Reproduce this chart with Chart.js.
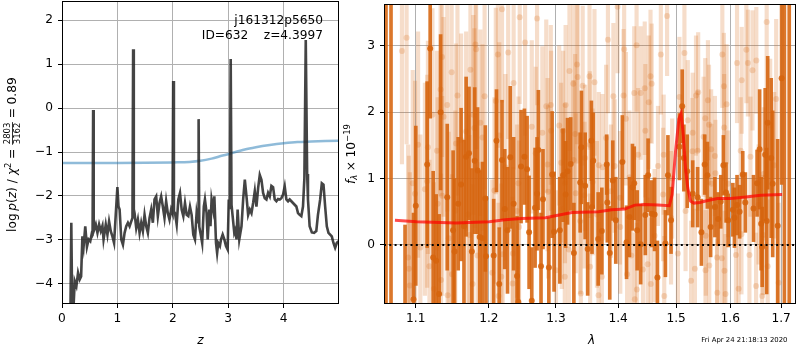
<!DOCTYPE html>
<html><head><meta charset="utf-8">
<script src="https://cdn.jsdelivr.net/npm/chart.js@4/dist/chart.umd.min.js"></script>
<style>
html,body{margin:0;padding:0;background:#fff;}
#wrap{position:relative;width:800px;height:350px;overflow:hidden;background:#fff;}
canvas{position:absolute;top:0;}
#pz{left:0;}
#sp{left:338px;}
</style></head><body>
<div id="wrap"><canvas id="pz" width="345" height="350"></canvas><canvas id="sp" width="462" height="350"></canvas></div>
<script>
// ---------- redshift probability p(z) ----------
const zGrid = [0.150,0.168,0.185,0.205,0.23,0.26,0.29,0.32,0.345,0.368,0.39,0.42,0.45,0.48,0.51,0.54,0.552,0.562,0.572,0.58,0.61,0.64,0.67,0.70,0.73,0.75,0.79,0.82,0.85,0.88,0.91,0.94,0.97,1.00,1.02,1.04,1.07,1.10,1.13,1.16,1.19,1.22,1.25,1.272,1.284,1.296,1.31,1.34,1.37,1.40,1.43,1.46,1.49,1.52,1.55,1.58,1.61,1.64,1.67,1.70,1.73,1.76,1.79,1.82,1.85,1.88,1.91,1.94,1.97,1.995,2.007,2.02,2.04,2.07,2.10,2.13,2.16,2.19,2.22,2.25,2.28,2.31,2.34,2.37,2.40,2.43,2.455,2.466,2.478,2.51,2.53,2.56,2.58,2.61,2.63,2.66,2.68,2.70,2.73,2.75,2.78,2.80,2.82,2.85,2.87,2.90,2.93,2.96,2.99,3.01,3.03,3.045,3.06,3.08,3.11,3.13,3.15,3.17,3.20,3.22,3.24,3.27,3.30,3.33,3.36,3.39,3.42,3.45,3.48,3.51,3.54,3.57,3.60,3.63,3.66,3.69,3.72,3.75,3.78,3.81,3.84,3.87,3.90,3.93,3.96,3.99,4.02,4.05,4.08,4.11,4.14,4.17,4.20,4.23,4.26,4.29,4.32,4.35,4.375,4.40,4.425,4.44,4.47,4.51,4.55,4.59,4.62,4.66,4.69,4.72,4.75,4.78,4.81,4.84,4.87,4.90,4.93,4.96,4.99];
const logPz = [-5.0,-2.61,-4.7,-4.6,-3.94,-4.05,-3.75,-3.90,-3.83,-2.92,-3.15,-2.69,-3.16,-2.99,-3.03,-2.84,-2.85,-0.04,-2.80,-2.77,-2.65,-2.84,-2.65,-2.80,-2.68,-2.99,-2.65,-2.88,-2.58,-2.80,-2.92,-3.07,-2.43,-1.80,-2.24,-2.31,-2.99,-3.11,-2.84,-2.69,-2.61,-2.69,-2.58,-2.5,1.34,-2.3,-2.39,-2.73,-2.54,-2.84,-2.61,-2.80,-2.43,-2.69,-2.84,-2.50,-2.31,-2.61,-2.08,-2.01,-2.46,-2.16,-2.01,-2.24,-2.50,-2.12,-2.39,-2.54,-2.31,-2.4,0.62,-2.35,-2.39,-2.65,-2.08,-1.93,-2.31,-2.46,-2.16,-2.43,-2.46,-2.24,-2.43,-2.88,-2.99,-2.39,-2.6,-0.25,-2.7,-2.92,-3.07,-2.24,-2.08,-2.39,-2.99,-2.31,-2.69,-2.08,-2.31,-2.01,-3.07,-3.30,-3.07,-3.14,-2.99,-2.88,-2.99,-3.14,-3.22,-2.08,-2.3,1.12,-2.2,-2.46,-2.84,-2.77,-2.99,-2.31,-2.99,-2.84,-2.69,-2.08,-1.63,-2.01,-2.43,-2.31,-2.39,-2.16,-1.89,-2.24,-1.82,-1.52,-1.63,-1.93,-2.05,-2.08,-1.93,-2.01,-1.77,-1.80,-2.08,-2.12,-2.07,-2.08,-2.05,-1.97,-1.78,-2.08,-2.12,-2.08,-2.12,-2.16,-2.20,-2.24,-2.39,-2.43,-2.46,-2.24,-1.6,1.55,-1.5,-2.08,-2.69,-2.83,-2.84,-2.80,-2.43,-2.08,-1.71,-1.74,-2.24,-2.69,-2.84,-2.88,-2.92,-3.07,-3.18,-3.07,-3.03];
// prior curve
const priorZ = [0,0.5,1,1.5,2,2.3,2.5,2.7,2.9,3.0,3.1,3.3,3.5,3.75,4.0,4.25,4.5,4.75,5.0];
const priorLogP = [-1.25,-1.25,-1.25,-1.245,-1.235,-1.225,-1.20,-1.15,-1.08,-1.05,-1.01,-0.94,-0.89,-0.84,-0.80,-0.77,-0.76,-0.75,-0.74];
const zTicks = [0,1,2,3,4];
const pzTicks = [-4,-3,-2,-1,0,1,2];

// ---------- spectrum (flux in 1e-19) ----------
const darkLam = [1.0616,1.068,1.086,1.097,1.100,1.115,1.119,1.123,1.127,1.131,1.133,1.142,1.150,1.152,1.157,1.161,1.165,1.168,1.172,1.176,1.180,1.184,1.187,1.191,1.195,1.196,1.207,1.211,1.215,1.219,1.223,1.227,1.231,1.236,1.241,1.243,1.247,1.252,1.256,1.259,1.263,1.268,1.271,1.273,1.277,1.280,1.289,1.294,1.297,1.306,1.311,1.315,1.318,1.323,1.328,1.338,1.340,1.346,1.350,1.356,1.357,1.359,1.367,1.373,1.381,1.382,1.386,1.391,1.396,1.407,1.414,1.419,1.424,1.427,1.432,1.438,1.446,1.4508,1.457,1.462,1.467,1.481,1.4855,1.491,1.506,1.511,1.514,1.520,1.530,1.539,1.546,1.552,1.557,1.563,1.571,1.577,1.582,1.587,1.592,1.596,1.605,1.608,1.613,1.618,1.624,1.629,1.645,1.652,1.657,1.660,1.662,1.668,1.671,1.673,1.680,1.683,1.693,1.701,1.7066,1.7165];
const darkFlux = [-3,-3,-1.0,-0.82,0.59,1.21,2.96,-0.19,-0.24,-0.74,2.00,0.72,0.22,-0.10,0.62,0.91,0.28,1.33,1.38,-0.10,1.27,1.12,0.12,0.10,0.70,-0.17,-0.16,1.57,-0.59,1.28,0.54,0.22,1.32,0.62,-0.47,-0.86,1.18,1.33,1.14,0.19,-0.84,0.56,0.77,1.43,-0.32,0.69,-0.34,1.06,0.20,0.22,1.05,0.76,1.11,1.22,-0.12,0.94,1.47,0.89,-0.06,1.57,0.57,1.27,0.09,0.21,1.21,0.64,-0.12,0.97,0.37,1.25,0.04,0.42,0.87,0.93,0.22,0.01,0.45,1.05,0.47,0.46,-0.49,0.02,1.05,0.37,1.48,2.09,1.31,1.11,0.77,0.72,0.19,1.21,1.05,0.27,0.57,0.39,0.65,1.20,0.79,0.37,0.53,0.41,0.60,0.50,1.06,0.64,0.55,0.93,1.44,0.32,-0.03,1.36,0.36,1.84,1.31,0.92,0.29,2.51,5,5];
const darkErr = [8,8,1.3,1.3,1.2,1.25,1.05,1.3,1.0,1.2,1.17,1.1,1.2,1.1,1.0,1.15,1.3,1.2,1.0,1.25,1.1,0.95,1.0,1.15,1.1,0.9,0.85,0.77,0.85,0.9,0.9,0.95,1.07,1.0,0.9,0.85,0.85,0.72,0.8,0.85,0.8,0.9,0.85,0.9,0.8,0.75,0.75,0.95,0.9,0.8,0.7,0.8,0.8,0.7,0.75,0.75,0.85,0.8,0.7,0.6,0.7,0.72,0.7,0.65,0.45,0.6,0.7,0.6,0.65,0.7,0.55,0.6,0.65,0.55,0.6,0.6,0.6,0.55,0.5,0.55,0.55,0.5,0.6,0.5,0.5,0.55,0.5,0.55,0.5,0.45,0.5,0.45,0.5,0.45,0.45,0.4,0.4,0.45,0.45,0.4,0.4,0.45,0.45,0.4,0.35,0.45,0.5,0.5,0.9,0.7,0.6,1.0,1.1,1.0,1.2,1.1,1.3,1.6,8,8];

const lightLam = [1.082,1.088,1.090,1.091,1.0922,1.096,1.099,1.103,1.106,1.112,1.115,1.116,1.118,1.122,1.124,1.128,1.129,1.133,1.1335,1.135,1.1352,1.137,1.142,1.1425,1.144,1.148,1.1485,1.153,1.154,1.156,1.161,1.168,1.171,1.1726,1.174,1.177,1.178,1.1795,1.181,1.182,1.184,1.188,1.191,1.194,1.205,1.208,1.210,1.213,1.214,1.215,1.218,1.219,1.220,1.224,1.228,1.2345,1.235,1.236,1.241,1.243,1.244,1.245,1.253,1.263,1.269,1.271,1.279,1.285,1.287,1.288,1.292,1.2925,1.300,1.305,1.308,1.309,1.311,1.3137,1.314,1.315,1.320,1.321,1.327,1.3275,1.330,1.331,1.333,1.334,1.338,1.339,1.342,1.345,1.346,1.353,1.3535,1.354,1.358,1.361,1.365,1.3675,1.368,1.373,1.374,1.380,1.383,1.388,1.392,1.394,1.399,1.403,1.4035,1.409,1.410,1.413,1.415,1.419,1.422,1.427,1.428,1.431,1.4315,1.4337,1.438,1.442,1.445,1.446,1.450,1.452,1.455,1.4555,1.457,1.462,1.468,1.473,1.477,1.478,1.479,1.484,1.491,1.493,1.5032,1.506,1.515,1.517,1.5211,1.527,1.5295,1.530,1.534,1.536,1.539,1.540,1.550,1.553,1.5535,1.554,1.558,1.560,1.5605,1.564,1.5645,1.571,1.572,1.575,1.5755,1.584,1.585,1.588,1.5885,1.589,1.591,1.593,1.596,1.611,1.613,1.616,1.620,1.6215,1.622,1.631,1.634,1.637,1.639,1.643,1.650,1.6505,1.655,1.662,1.664,1.665,1.671,1.673,1.678,1.686,1.690,1.695,1.698];
const lightFlux = [2.92,3.12,-0.19,-0.36,-0.61,0.93,0.77,1.51,-0.04,0.84,0.96,1.47,-0.32,1.96,-0.66,1.42,0.62,2.34,-0.53,2.83,0.74,1.93,2.11,-0.76,0.10,2.60,-0.44,0.52,1.53,2.25,1.58,1.71,0.46,0.15,2.64,-0.59,1.96,1.76,3.02,2.95,-0.16,1.84,1.62,2.24,-0.42,0.82,2.17,2.87,-0.77,1.65,-0.48,3.55,-0.14,1.17,2.90,-0.58,-0.13,2.44,0.51,0.93,0.27,3.43,3.05,1.78,1.38,3.41,1.69,2.09,1.21,0.80,2.11,1.72,-0.38,1.80,1.24,0.54,1.72,-0.48,0.93,2.11,-0.07,2.62,2.43,1.28,1.67,0.78,2.72,2.53,0.36,-0.73,2.40,0.75,1.31,2.54,1.51,-0.33,0.95,2.45,0.46,-0.76,1.20,-0.48,1.17,1.61,3.09,0.81,2.24,1.19,3.59,0.71,0.27,2.25,2.95,1.90,-0.44,1.02,-0.16,2.29,-0.82,3.01,-0.67,1.36,2.29,-0.37,2.36,1.72,-0.29,2.15,2.54,-0.59,2.43,0.14,1.19,2.87,0.76,1.36,-0.77,3.45,0.41,1.00,-0.13,2.23,2.89,0.51,1.88,-0.54,1.41,1.69,-0.36,2.25,1.42,2.30,1.63,1.91,-0.38,0.14,2.18,1.81,-0.31,1.44,0.92,1.34,1.08,-0.19,-0.72,-0.20,2.87,2.39,1.77,-0.39,-0.74,2.12,0.92,-0.15,2.74,-0.66,1.42,0.16,2.48,2.94,2.74,-0.15,1.33,2.63,-0.62,2.78,0.61,-0.77,0.15,1.07,3.36,-0.32,1.8,1.2,2.2,-0.57];
const lightErr = [1.7,1.6,1.7,1.7,1.7,1.7,1.7,1.7,1.7,1.6,1.6,1.6,1.6,1.6,1.6,1.5,1.6,1.6,1.6,1.5,1.5,1.5,1.6,1.5,1.6,1.6,1.5,1.5,1.5,1.5,1.6,1.5,1.5,1.5,1.5,1.5,1.5,1.5,1.4,1.5,1.4,1.4,1.4,1.4,1.4,1.4,1.4,1.4,1.4,1.4,1.4,1.4,1.4,1.4,1.3,1.3,1.3,1.3,1.3,1.3,1.3,1.3,1.4,1.3,1.3,1.3,1.3,1.3,1.3,1.3,1.2,1.2,1.2,1.2,1.2,1.2,1.2,1.2,1.2,1.2,1.2,1.2,1.2,1.2,1.2,1.2,1.2,1.3,1.1,1.1,1.2,1.1,1.1,1.1,1.1,1.1,1.1,1.1,1.1,1.1,1.1,1.1,1.1,1.1,1.1,1.0,1.1,1.0,1.0,1.0,1.0,1.0,1.0,1.0,1.0,1.0,1.0,1.0,1.0,1.0,1.0,1.0,1.0,1.0,1.0,1.0,1.0,1.0,1.0,1.0,0.9,1.0,0.9,0.9,1.0,0.9,0.9,0.9,1.0,0.9,0.9,0.9,0.9,0.9,0.9,0.9,0.8,0.9,0.9,0.9,0.9,0.9,0.9,0.9,0.9,0.9,0.9,0.9,0.9,0.9,0.9,0.9,0.8,0.8,0.8,0.8,0.8,0.8,0.8,0.9,0.9,0.9,0.8,0.8,0.9,0.8,0.8,0.9,0.8,0.8,0.8,0.9,0.9,0.9,0.8,0.8,0.9,0.9,0.9,1.0,1.0,1.0,1.0,1.1,1.2,1.2,1.5,1.6,1.7,1.4];

// best-fit template
const modelLam = [1.073,1.101,1.154,1.2006,1.2233,1.2473,1.284,1.299,1.325,1.3675,1.389,1.411,1.428,1.445,1.468,1.488,1.493,1.499,1.505,1.509,1.513,1.517,1.521,1.526,1.532,1.543,1.5575,1.576,1.600,1.626,1.659,1.702];
const modelFlux = [0.37,0.35,0.33,0.35,0.38,0.40,0.41,0.44,0.49,0.50,0.53,0.54,0.60,0.61,0.60,0.59,0.76,1.41,1.90,1.98,1.65,1.15,0.86,0.66,0.63,0.64,0.67,0.70,0.70,0.72,0.75,0.76];

const lamTicks = [1.1,1.2,1.3,1.4,1.5,1.6,1.7];
const fluxTicks = [0,1,2,3];
const LAM_MIN = 1.0591, LAM_MAX = 1.7304;
const FLUX_MIN = -0.89, FLUX_MAX = 3.63;

// ---------- shared styling ----------
const FONT = '"DejaVu Sans"';
const TICK_SIZE = 12.2;
Chart.defaults.font.family = FONT;
Chart.defaults.color = '#000';
const GRID = '#b0b0b0';
const DARK = 'rgba(214,100,14,0.88)';
const LIGHT = 'rgba(214,100,14,0.22)';
const minus = v => String(v).replace('-', '\u2212');

function fixedTicks(values) {
  return scale => { scale.ticks = values.map(v => ({ value: v })); };
}
function fixX(h) {
  return s => { s.height = h; s.paddingLeft = 0; s.paddingRight = 0; s.paddingTop = 0; s.paddingBottom = 0; };
}
function fixY(w) {
  return s => { s.width = w; s.paddingLeft = 0; s.paddingRight = 0; s.paddingTop = 0; s.paddingBottom = 0; };
}
function axis(extra) {
  return Object.assign({
    grid: { color: GRID, lineWidth: 1, tickColor: '#000', tickLength: 4, tickWidth: 1, offset: false },
    border: { display: false },
  }, extra);
}
function tickOpts(cb, pad) {
  return { callback: cb, color: '#000', font: { size: TICK_SIZE }, padding: pad, maxRotation: 0, autoSkip: false };
}

// axes frame
const frame = {
  id: 'frame',
  afterDraw(chart) {
    const { ctx, chartArea: a } = chart;
    ctx.save();
    ctx.strokeStyle = '#000';
    ctx.lineWidth = 1;
    ctx.strokeRect(a.left + 0.5, a.top + 0.5, a.right - a.left - 1, a.bottom - a.top - 1);
    ctx.restore();
  }
};

// simple math-style text runs along a baseline
function fontStr(size, italic) { return (italic ? 'italic ' : '') + size + 'px ' + FONT; }
function drawRuns(ctx, runs, cx, cy, rotate) {
  let total = 0;
  const items = runs.map(r => {
    let w;
    if (r.gap !== undefined) w = r.gap;
    else if (r.frac) {
      ctx.font = fontStr(r.size, false);
      w = Math.max(ctx.measureText(r.frac[0]).width, ctx.measureText(r.frac[1]).width) + 2;
    } else {
      ctx.font = fontStr(r.size || TICK_SIZE, r.it);
      w = ctx.measureText(r.t).width;
    }
    total += w;
    return { w, r };
  });
  ctx.save();
  ctx.translate(cx, cy);
  if (rotate) ctx.rotate(-Math.PI / 2);
  ctx.fillStyle = '#000';
  ctx.textBaseline = 'alphabetic';
  let x = -total / 2;
  items.forEach(({ w, r }) => {
    if (r.frac) {
      ctx.font = fontStr(r.size, false);
      ctx.textAlign = 'center';
      const mid = x + w / 2;
      ctx.fillText(r.frac[0], mid, r.num);
      ctx.fillText(r.frac[1], mid, r.den);
      ctx.fillRect(x + 0.5, r.bar - 0.4, w - 1, 0.8);
    } else if (r.t) {
      ctx.font = fontStr(r.size || TICK_SIZE, r.it);
      ctx.textAlign = 'left';
      ctx.fillText(r.t, x, r.dy || 0);
    }
    x += w;
  });
  ctx.restore();
}

const pzText = {
  id: 'pzText',
  afterDraw(chart) {
    const ctx = chart.ctx;
    ctx.save();
    ctx.fillStyle = '#000';
    ctx.font = fontStr(TICK_SIZE, false);
    ctx.textAlign = 'right';
    ctx.textBaseline = 'alphabetic';
    ctx.fillText('j161312p5650', 323, 24);
    ctx.fillText('ID=632    z=4.3997', 323, 39);
    ctx.textAlign = 'center';
    ctx.font = fontStr(TICK_SIZE, true);
    ctx.fillText('z', 200.5, 344);
    ctx.restore();
    drawRuns(ctx, [
      { t: 'log' }, { gap: 2.5 }, { t: 'p', it: true }, { t: '(' }, { t: 'z', it: true }, { t: ')' },
      { gap: 4 }, { t: '/' }, { gap: 4 }, { t: '\u03c7', it: true }, { t: '2', size: 8.5, dy: -5 },
      { gap: 3.5 }, { t: '=' }, { gap: 3.5 },
      { frac: ['2803', '3162'], size: 8.5, num: -5.6, den: 4.2, bar: -3.6 },
      { gap: 3.5 }, { t: '=' }, { gap: 3.5 }, { t: '0.89' }
    ], 16, 154.6, true);
  }
};

const specText = {
  id: 'specText',
  afterDraw(chart) {
    const ctx = chart.ctx;
    ctx.save();
    ctx.fillStyle = '#000';
    ctx.textAlign = 'center';
    ctx.textBaseline = 'alphabetic';
    ctx.font = fontStr(TICK_SIZE, true);
    ctx.fillText('\u03bb', 253.5, 344);
    ctx.font = fontStr(6.9, false);
    ctx.fillText('Fri Apr 24 21:18:13 2020', 406.4, 341.7);
    ctx.restore();
    drawRuns(ctx, [
      { t: 'f', it: true }, { t: '\u03bb', it: true, size: 8.5, dy: 2.5 }, { gap: 3.5 }, { t: '\u00d7' }, { gap: 3.5 },
      { t: '10' }, { t: '\u221219', size: 8.5, dy: -5 }
    ], 16.5, 154, true);
  }
};

// ---------- left panel: p(z) ----------
new Chart(document.getElementById('pz'), {
  type: 'scatter',
  data: {
    datasets: [
      {
        data: zGrid.map((z, i) => ({ x: z, y: logPz[i] })),
        showLine: true, pointRadius: 0, borderColor: 'rgba(35,35,35,0.85)', borderWidth: 2.6, order: 1
      },
      {
        data: priorZ.map((z, i) => ({ x: z, y: priorLogP[i] })),
        showLine: true, pointRadius: 0, borderColor: 'rgba(31,119,180,0.5)', borderWidth: 2.5,
        cubicInterpolationMode: 'monotone', order: 2
      }
    ]
  },
  options: {
    responsive: false, animation: false, devicePixelRatio: 1,
    layout: { padding: { left: 0, top: 1, right: 6, bottom: 0 } },
    plugins: { legend: { display: false }, tooltip: { enabled: false } },
    scales: {
      x: axis({ type: 'linear', min: 0, max: 5, afterBuildTicks: fixedTicks(zTicks), ticks: tickOpts(minus, 4), afterFit: fixX(46) }),
      y: axis({ type: 'linear', min: -4.46, max: 2.44, afterBuildTicks: fixedTicks(pzTicks), ticks: tickOpts(minus, 5), afterFit: fixY(62) })
    }
  },
  plugins: [frame, pzText]
});

// ---------- right panel: spectrum ----------
const errBars = (lam, f, e) => lam.map((l, i) => ({ x: l, y: [f[i] - e[i], f[i] + e[i]] }));
new Chart(document.getElementById('sp'), {
  type: 'scatter',
  data: {
    datasets: [
      { type: 'line', data: [{ x: LAM_MIN, y: 0 }, { x: LAM_MAX, y: 0 }], borderColor: '#000', borderWidth: 2,
        borderDash: [2, 3.3], pointRadius: 0, order: 1 },
      { type: 'line', data: modelLam.map((l, i) => ({ x: l, y: modelFlux[i] })), borderColor: 'rgba(255,0,0,0.7)',
        borderWidth: 3, pointRadius: 0, order: 2 },
      { type: 'scatter', data: darkLam.map((l, i) => ({ x: l, y: darkFlux[i] })), backgroundColor: DARK,
        borderWidth: 0, pointRadius: 3, order: 3 },
      { type: 'bar', data: errBars(darkLam, darkFlux, darkErr), backgroundColor: DARK, borderWidth: 0,
        barThickness: 3, grouped: false, order: 4 },
      { type: 'scatter', data: lightLam.map((l, i) => ({ x: l, y: lightFlux[i] })), backgroundColor: LIGHT,
        borderWidth: 0, pointRadius: 3, order: 5 },
      { type: 'bar', data: errBars(lightLam, lightFlux, lightErr), backgroundColor: LIGHT, borderWidth: 0,
        barThickness: 3.5, grouped: false, order: 6 }
    ]
  },
  options: {
    responsive: false, animation: false, devicePixelRatio: 1,
    layout: { padding: { left: 0, top: 1, right: 1, bottom: 0 } },
    plugins: { legend: { display: false }, tooltip: { enabled: false } },
    scales: {
      x: axis({ type: 'logarithmic', min: LAM_MIN, max: LAM_MAX, offset: false, z: 1,
        afterBuildTicks: fixedTicks(lamTicks), ticks: tickOpts(v => v.toFixed(1), 4), afterFit: fixX(46) }),
      y: axis({ type: 'linear', min: FLUX_MIN, max: FLUX_MAX, z: 1,
        afterBuildTicks: fixedTicks(fluxTicks), ticks: tickOpts(minus, 5), afterFit: fixY(46) })
    }
  },
  plugins: [frame, specText]
});
</script></body></html>
